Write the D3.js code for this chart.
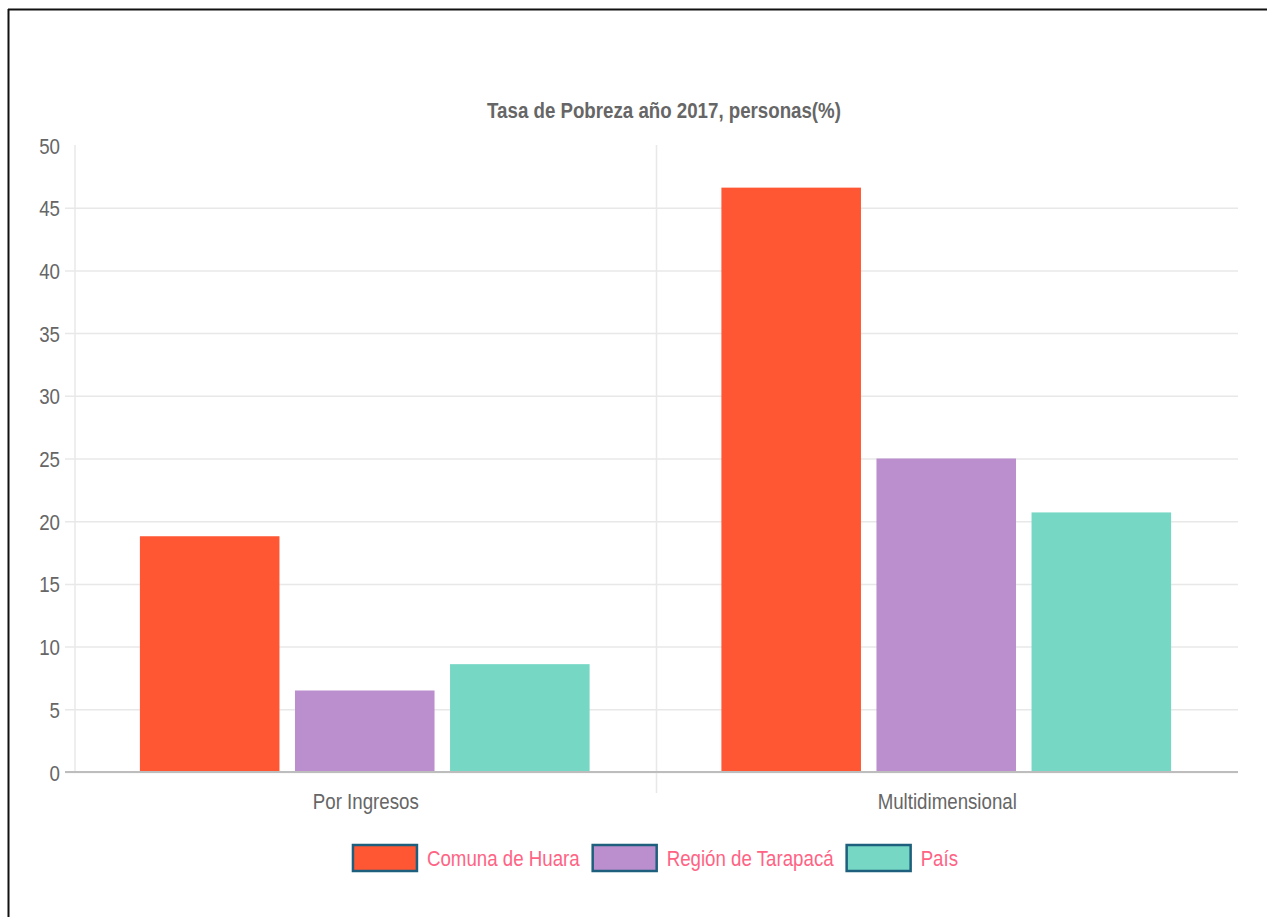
<!DOCTYPE html>
<html>
<head>
<meta charset="utf-8">
<script src="https://cdn.jsdelivr.net/npm/d3@7"></script>
<style>
  html, body { margin: 0; padding: 0; background: #fff; }
  svg { display: block; }
  text { font-family: "Liberation Sans", Arial, sans-serif; }
</style>
</head>
<body>
<div id="chart"></div>
<script>
// data
const categories = ["Por Ingresos", "Multidimensional"];
const seriesNames = ["Comuna de Huara", "Región de Tarapacá", "País"];
const huara = [18.8, 46.6];
const tarapaca = [6.5, 25.0];
const pais = [8.6, 20.7];
const colors = ["#ff5733", "#bb8fce", "#76d7c4"];
const yTicks = [0, 5, 10, 15, 20, 25, 30, 35, 40, 45, 50];
const title = "Tasa de Pobreza año 2017, personas(%)";

const seriesValues = [huara, tarapaca, pais];

const width = 1267, height = 917;
const margin = {top: 145, right: 29, bottom: 145, left: 75};
const sx = 0.85; // the source text is drawn narrow
const fs = "22px";

const svg = d3.select("#chart").append("svg")
    .attr("width", width)
    .attr("height", height);

// put a text at (x, y) squeezed horizontally
function place(sel, x, y) {
    return sel.attr("x", 0).attr("y", 0)
        .attr("transform", `translate(${x},${y}) scale(${sx},1)`);
}

// frame
svg.append("line").attr("x1", 8).attr("x2", width).attr("y1", 9.5).attr("y2", 9.5)
    .attr("stroke", "#111").attr("stroke-width", 2);
svg.append("line").attr("x1", 8.5).attr("x2", 8.5).attr("y1", 9).attr("y2", height)
    .attr("stroke", "#111").attr("stroke-width", 2);

const x0 = d3.scaleBand()
    .domain(categories)
    .range([margin.left, width - margin.right])
    .paddingInner(0).paddingOuter(0);

// chart.js style: categoryPercentage 0.8, barPercentage 0.9
const x1 = d3.scaleBand()
    .domain(d3.range(seriesNames.length))
    .range([0, x0.bandwidth() * 0.8]);

const y = d3.scaleLinear()
    .domain([0, 50])
    .range([height - margin.bottom, margin.top]);

// horizontal grid + y ticks
const yAxis = svg.append("g")
    .attr("transform", `translate(${margin.left},0)`)
    .call(d3.axisLeft(y).tickValues(yTicks).tickSize(-(width - margin.left - margin.right)));
yAxis.select(".domain").remove();
yAxis.selectAll(".tick line")
    .attr("x1", -10)
    .attr("stroke", "#e8e8e8")
    .attr("stroke-width", 1.5)
    .attr("display", d => d === 50 ? "none" : null);
yAxis.selectAll(".tick text")
    .attr("fill", "#666")
    .attr("dy", null)
    .style("font-size", fs)
    .call(place, -15, 8);

// vertical grid lines at category boundaries
const boundaries = [margin.left, x0(categories[1])];
svg.selectAll(".vgrid")
    .data(boundaries)
    .enter().append("line")
    .attr("x1", d => d).attr("x2", d => d)
    .attr("y1", margin.top)
    .attr("y2", (d, i) => i === 0 ? y(0) : y(0) + 21)
    .attr("stroke", "#e8e8e8")
    .attr("stroke-width", 1.5);

// bars
const groups = svg.selectAll(".cat")
    .data(categories)
    .enter().append("g")
    .attr("transform", d => `translate(${x0(d) + x0.bandwidth() * 0.1},0)`);

groups.selectAll("rect")
    .data((d, ci) => seriesValues.map((vals, si) => ({si, v: vals[ci]})))
    .enter().append("rect")
    .attr("x", d => x1(d.si) + x1.bandwidth() * 0.05 - 1)
    .attr("width", x1.bandwidth() * 0.9)
    .attr("y", d => y(d.v))
    .attr("height", d => y(0) - y(d.v))
    .attr("fill", d => colors[d.si]);

// zero line
svg.append("line")
    .attr("x1", margin.left - 10).attr("x2", width - margin.right)
    .attr("y1", y(0)).attr("y2", y(0))
    .attr("stroke", "#bdbdbd").attr("stroke-width", 2);

// x labels
svg.selectAll(".xlab")
    .data(categories)
    .enter().append("text")
    .attr("text-anchor", "middle")
    .attr("fill", "#666")
    .style("font-size", fs)
    .text(d => d)
    .each(function(d) {
        place(d3.select(this), x0(d) + x0.bandwidth() / 2, y(0) + 37);
    });

// title
svg.append("text")
    .attr("text-anchor", "middle")
    .attr("fill", "#666")
    .style("font-size", fs)
    .style("font-weight", "bold")
    .text(title)
    .call(place, 664, 118);

// legend
const boxW = 64, boxH = 26, gapText = 10, gapItem = 13;
const legend = svg.append("g");
const items = legend.selectAll("g")
    .data(seriesNames)
    .enter().append("g");
items.append("rect")
    .attr("width", boxW).attr("height", boxH)
    .attr("fill", (d, i) => colors[i])
    .attr("stroke", "#1d5f7c")
    .attr("stroke-width", 2.5);
items.append("text")
    .attr("fill", "#ff6384")
    .style("font-size", fs)
    .text(d => d)
    .call(place, boxW + gapText, boxH / 2 + 8);

let offset = 0;
const widths = [];
items.each(function() {
    const w = boxW + gapText + d3.select(this).select("text").node().getComputedTextLength() * sx;
    widths.push(w);
});
const total = d3.sum(widths) + gapItem * (widths.length - 1);
const startX = 655.5 - total / 2;
items.attr("transform", (d, i) => {
    const t = `translate(${startX + offset},845)`;
    offset += widths[i] + gapItem;
    return t;
});
</script>
</body>
</html>
